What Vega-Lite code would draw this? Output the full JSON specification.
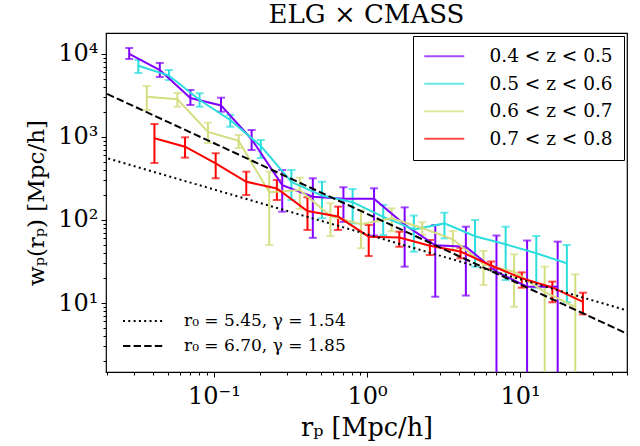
{
  "$schema": "https://vega.github.io/schema/vega-lite/v6.json",
  "width": 521,
  "height": 339,
  "autosize": {"type": "none"},
  "padding": {"left": 106, "top": 33, "right": 13, "bottom": 74},
  "background": "white",
  "title": {"text": "ELG × CMASS", "font": "DejaVu Serif", "fontSize": 26, "fontWeight": "normal", "color": "black", "offset": 5, "anchor": "middle"},
  "config": {
    "view": {"stroke": "black", "strokeWidth": 1.2},
    "font": "DejaVu Serif",
    "axis": {"grid": false, "domain": false, "tickColor": "black", "labelColor": "black", "titleColor": "black", "labelFont": "DejaVu Serif", "titleFont": "DejaVu Serif", "titleFontWeight": "normal", "labelOverlap": false, "labelFlush": false, "labelBound": false, "tickWidth": 1}
  },
  "datasets": {
    "obs": [
      {"s": "0.4 < z < 0.5", "x": 0.02793, "y": 10000, "lo": 8710, "hi": 11810},
      {"s": "0.4 < z < 0.5", "x": 0.04426, "y": 6410, "lo": 5290, "hi": 7800},
      {"s": "0.4 < z < 0.5", "x": 0.07015, "y": 2950, "lo": 2430, "hi": 3680},
      {"s": "0.4 < z < 0.5", "x": 0.1112, "y": 2400, "lo": 2018, "hi": 2973},
      {"s": "0.4 < z < 0.5", "x": 0.1762, "y": 940, "lo": 697, "hi": 1214},
      {"s": "0.4 < z < 0.5", "x": 0.2793, "y": 263, "lo": 126, "hi": 400},
      {"s": "0.4 < z < 0.5", "x": 0.4426, "y": 191, "lo": 61, "hi": 318},
      {"s": "0.4 < z < 0.5", "x": 0.7015, "y": 180, "lo": 95, "hi": 248},
      {"s": "0.4 < z < 0.5", "x": 1.112, "y": 180, "lo": 65, "hi": 241},
      {"s": "0.4 < z < 0.5", "x": 1.762, "y": 88, "lo": 27.4, "hi": 142},
      {"s": "0.4 < z < 0.5", "x": 2.793, "y": 49.5, "lo": 11.9, "hi": 87.1},
      {"s": "0.4 < z < 0.5", "x": 4.426, "y": 47.7, "lo": 12.3, "hi": 83},
      {"s": "0.4 < z < 0.5", "x": 7.015, "y": 23.8, "lo": 0.1, "hi": 65},
      {"s": "0.4 < z < 0.5", "x": 11.12, "y": 15.7, "lo": 0.1, "hi": 56.6},
      {"s": "0.4 < z < 0.5", "x": 17.62, "y": 15.7, "lo": 0.1, "hi": 54.9},
      {"s": "0.5 < z < 0.6", "x": 0.03206, "y": 7230, "lo": 5900, "hi": 8470},
      {"s": "0.5 < z < 0.6", "x": 0.05082, "y": 5500, "lo": 4860, "hi": 6410},
      {"s": "0.5 < z < 0.6", "x": 0.08054, "y": 2790, "lo": 2318, "hi": 3365},
      {"s": "0.5 < z < 0.6", "x": 0.1277, "y": 1603, "lo": 1330, "hi": 1841},
      {"s": "0.5 < z < 0.6", "x": 0.2023, "y": 780, "lo": 558, "hi": 920},
      {"s": "0.5 < z < 0.6", "x": 0.3206, "y": 287, "lo": 174, "hi": 400},
      {"s": "0.5 < z < 0.6", "x": 0.5082, "y": 197, "lo": 105, "hi": 289},
      {"s": "0.5 < z < 0.6", "x": 0.8054, "y": 164, "lo": 91, "hi": 236},
      {"s": "0.5 < z < 0.6", "x": 1.277, "y": 109, "lo": 66, "hi": 152},
      {"s": "0.5 < z < 0.6", "x": 2.023, "y": 77, "lo": 41.5, "hi": 113},
      {"s": "0.5 < z < 0.6", "x": 3.206, "y": 91, "lo": 60, "hi": 122.5},
      {"s": "0.5 < z < 0.6", "x": 5.082, "y": 63.7, "lo": 27.4, "hi": 100},
      {"s": "0.5 < z < 0.6", "x": 8.054, "y": 51, "lo": 18.9, "hi": 83},
      {"s": "0.5 < z < 0.6", "x": 12.77, "y": 39.7, "lo": 15.3, "hi": 64.1},
      {"s": "0.5 < z < 0.6", "x": 20.23, "y": 30.1, "lo": 10.2, "hi": 50},
      {"s": "0.6 < z < 0.7", "x": 0.03639, "y": 3060, "lo": 2113, "hi": 4110},
      {"s": "0.6 < z < 0.7", "x": 0.05768, "y": 2850, "lo": 2318, "hi": 3390},
      {"s": "0.6 < z < 0.7", "x": 0.09141, "y": 1150, "lo": 847, "hi": 1486},
      {"s": "0.6 < z < 0.7", "x": 0.1449, "y": 900, "lo": 736, "hi": 1057},
      {"s": "0.6 < z < 0.7", "x": 0.2296, "y": 216, "lo": 50, "hi": 382},
      {"s": "0.6 < z < 0.7", "x": 0.3639, "y": 230, "lo": 136, "hi": 324},
      {"s": "0.6 < z < 0.7", "x": 0.5768, "y": 111.5, "lo": 64, "hi": 159},
      {"s": "0.6 < z < 0.7", "x": 0.9141, "y": 89, "lo": 45.6, "hi": 132},
      {"s": "0.6 < z < 0.7", "x": 1.449, "y": 105, "lo": 73, "hi": 138},
      {"s": "0.6 < z < 0.7", "x": 2.296, "y": 80, "lo": 66, "hi": 94},
      {"s": "0.6 < z < 0.7", "x": 3.639, "y": 58.5, "lo": 43.5, "hi": 73.6},
      {"s": "0.6 < z < 0.7", "x": 5.768, "y": 29.4, "lo": 16.5, "hi": 42.4},
      {"s": "0.6 < z < 0.7", "x": 9.141, "y": 23.8, "lo": 9, "hi": 38.6},
      {"s": "0.6 < z < 0.7", "x": 14.49, "y": 13.6, "lo": 0.1, "hi": 27.4},
      {"s": "0.6 < z < 0.7", "x": 22.96, "y": 9, "lo": 0.1, "hi": 22.2},
      {"s": "0.7 < z < 0.8", "x": 0.04083, "y": 964, "lo": 486, "hi": 1435},
      {"s": "0.7 < z < 0.8", "x": 0.06471, "y": 764, "lo": 564, "hi": 991},
      {"s": "0.7 < z < 0.8", "x": 0.1026, "y": 482, "lo": 318, "hi": 637},
      {"s": "0.7 < z < 0.8", "x": 0.1626, "y": 289, "lo": 200, "hi": 382},
      {"s": "0.7 < z < 0.8", "x": 0.2576, "y": 240, "lo": 174, "hi": 303},
      {"s": "0.7 < z < 0.8", "x": 0.4083, "y": 128, "lo": 75.9, "hi": 188},
      {"s": "0.7 < z < 0.8", "x": 0.6471, "y": 110, "lo": 75.9, "hi": 145},
      {"s": "0.7 < z < 0.8", "x": 1.026, "y": 63, "lo": 36.8, "hi": 87.1},
      {"s": "0.7 < z < 0.8", "x": 1.626, "y": 61.5, "lo": 47.6, "hi": 72.3},
      {"s": "0.7 < z < 0.8", "x": 2.576, "y": 49, "lo": 37.8, "hi": 57.4},
      {"s": "0.7 < z < 0.8", "x": 4.083, "y": 41.7, "lo": 34.6, "hi": 46.3},
      {"s": "0.7 < z < 0.8", "x": 6.471, "y": 28.3, "lo": 25.7, "hi": 31.6},
      {"s": "0.7 < z < 0.8", "x": 10.26, "y": 19.9, "lo": 15.3, "hi": 23.4},
      {"s": "0.7 < z < 0.8", "x": 16.26, "y": 15.4, "lo": 10.2, "hi": 18.1},
      {"s": "0.7 < z < 0.8", "x": 25.76, "y": 10.3, "lo": 7.3, "hi": 13.3}
    ],
    "model": [
      {"m": "r₀ = 5.45, γ = 1.54", "x": 0.015, "y": 649.5},
      {"m": "r₀ = 5.45, γ = 1.54", "x": 60, "y": 7.37},
      {"m": "r₀ = 6.70, γ = 1.85", "x": 0.015, "y": 4222},
      {"m": "r₀ = 6.70, γ = 1.85", "x": 60, "y": 3.66}
    ]
  },
  "encoding": {
    "x": {"field": "x", "type": "quantitative", "scale": {"type": "log", "domain": [0.0197, 50], "nice": false},
      "axis": {"title": "rₚ   [Mpc/h]", "titleFontSize": 25.5, "titlePadding": 7, "labelFontSize": 24, "labelPadding": 7,
        "values": [0.02,0.03,0.04,0.05,0.06,0.07,0.08,0.09,0.1,0.2,0.3,0.4,0.5,0.6,0.7,0.8,0.9,1,2,3,4,5,6,7,8,9,10,20,30,40,50],
        "labelExpr": "datum.value === 0.1 ? '10⁻¹' : datum.value === 1 ? '10⁰' : datum.value === 10 ? '10¹' : ''",
        "tickSize": {"condition": {"test": "indexof([0.1,1,10], datum.value) >= 0", "value": 5}, "value": 3}}}
  },
  "layer": [
    {
      "data": {"name": "obs"},
      "mark": {"type": "rule", "clip": true, "strokeWidth": 2},
      "encoding": {
        "y": {"field": "lo", "type": "quantitative", "scale": {"type": "log", "domain": [1.475, 17900], "nice": false},
          "axis": {"title": "wₚ(rₚ)  [Mpc/h]", "titleFontSize": 23, "titlePadding": 9, "labelFontSize": 24, "labelPadding": 3,
            "values": [2,3,4,5,6,7,8,9,10,20,30,40,50,60,70,80,90,100,200,300,400,500,600,700,800,900,1000,2000,3000,4000,5000,6000,7000,8000,9000,10000],
            "labelExpr": "datum.value === 10 ? '10¹' : datum.value === 100 ? '10²' : datum.value === 1000 ? '10³' : datum.value === 10000 ? '10⁴' : ''",
            "tickSize": {"condition": {"test": "indexof([10,100,1000,10000], datum.value) >= 0", "value": 5}, "value": 3}}},
        "y2": {"field": "hi"},
        "color": {"field": "s", "type": "nominal",
          "scale": {"domain": ["0.4 < z < 0.5", "0.5 < z < 0.6", "0.6 < z < 0.7", "0.7 < z < 0.8"], "range": ["#8000ff", "#2bdddd", "#d4dd80", "#ff0000"]},
          "legend": {"title": null, "orient": "top-right", "offset": 3, "symbolType": "M-4,0H4", "symbolSize": 100, "symbolStrokeWidth": 2, "symbolOffset": 11, "labelLimit": 0,
            "labelFont": "DejaVu Serif", "labelFontSize": 18.5, "labelColor": "black", "labelOffset": 36, "strokeColor": "black", "fillColor": "white", "padding": 11, "rowPadding": 8.5}}
      }
    },
    {
      "data": {"name": "obs"},
      "mark": {"type": "tick", "clip": true, "orient": "horizontal", "size": 8, "thickness": 2},
      "encoding": {
        "y": {"field": "hi", "type": "quantitative", "title": "wₚ(rₚ)  [Mpc/h]"},
        "color": {"field": "s", "type": "nominal"}
      }
    },
    {
      "data": {"name": "obs"},
      "mark": {"type": "tick", "clip": true, "orient": "horizontal", "size": 8, "thickness": 2},
      "encoding": {
        "y": {"field": "lo", "type": "quantitative", "title": "wₚ(rₚ)  [Mpc/h]"},
        "color": {"field": "s", "type": "nominal"}
      }
    },
    {
      "data": {"name": "obs"},
      "mark": {"type": "line", "clip": true, "strokeWidth": 2},
      "encoding": {
        "y": {"field": "y", "type": "quantitative", "title": "wₚ(rₚ)  [Mpc/h]"},
        "color": {"field": "s", "type": "nominal"}
      }
    },
    {
      "data": {"name": "model"},
      "mark": {"type": "line", "clip": true, "strokeWidth": 2, "color": "black"},
      "encoding": {
        "y": {"field": "y", "type": "quantitative", "title": "wₚ(rₚ)  [Mpc/h]"},
        "strokeDash": {"field": "m", "type": "nominal",
          "scale": {"domain": ["r₀ = 5.45, γ = 1.54", "r₀ = 6.70, γ = 1.85"], "range": [[2, 3.3], [7.4, 3.2]]},
          "legend": {"title": null, "orient": "bottom-left", "offset": 16, "symbolType": "M-2,0H2", "symbolSize": 400, "symbolStrokeWidth": 2, "symbolStrokeColor": "black", "symbolOffset": 8, "labelLimit": 0,
            "labelFont": "DejaVu Serif", "labelFontSize": 17, "labelColor": "black", "labelOffset": 30, "padding": 2, "rowPadding": 6}}
      }
    }
  ]
}
